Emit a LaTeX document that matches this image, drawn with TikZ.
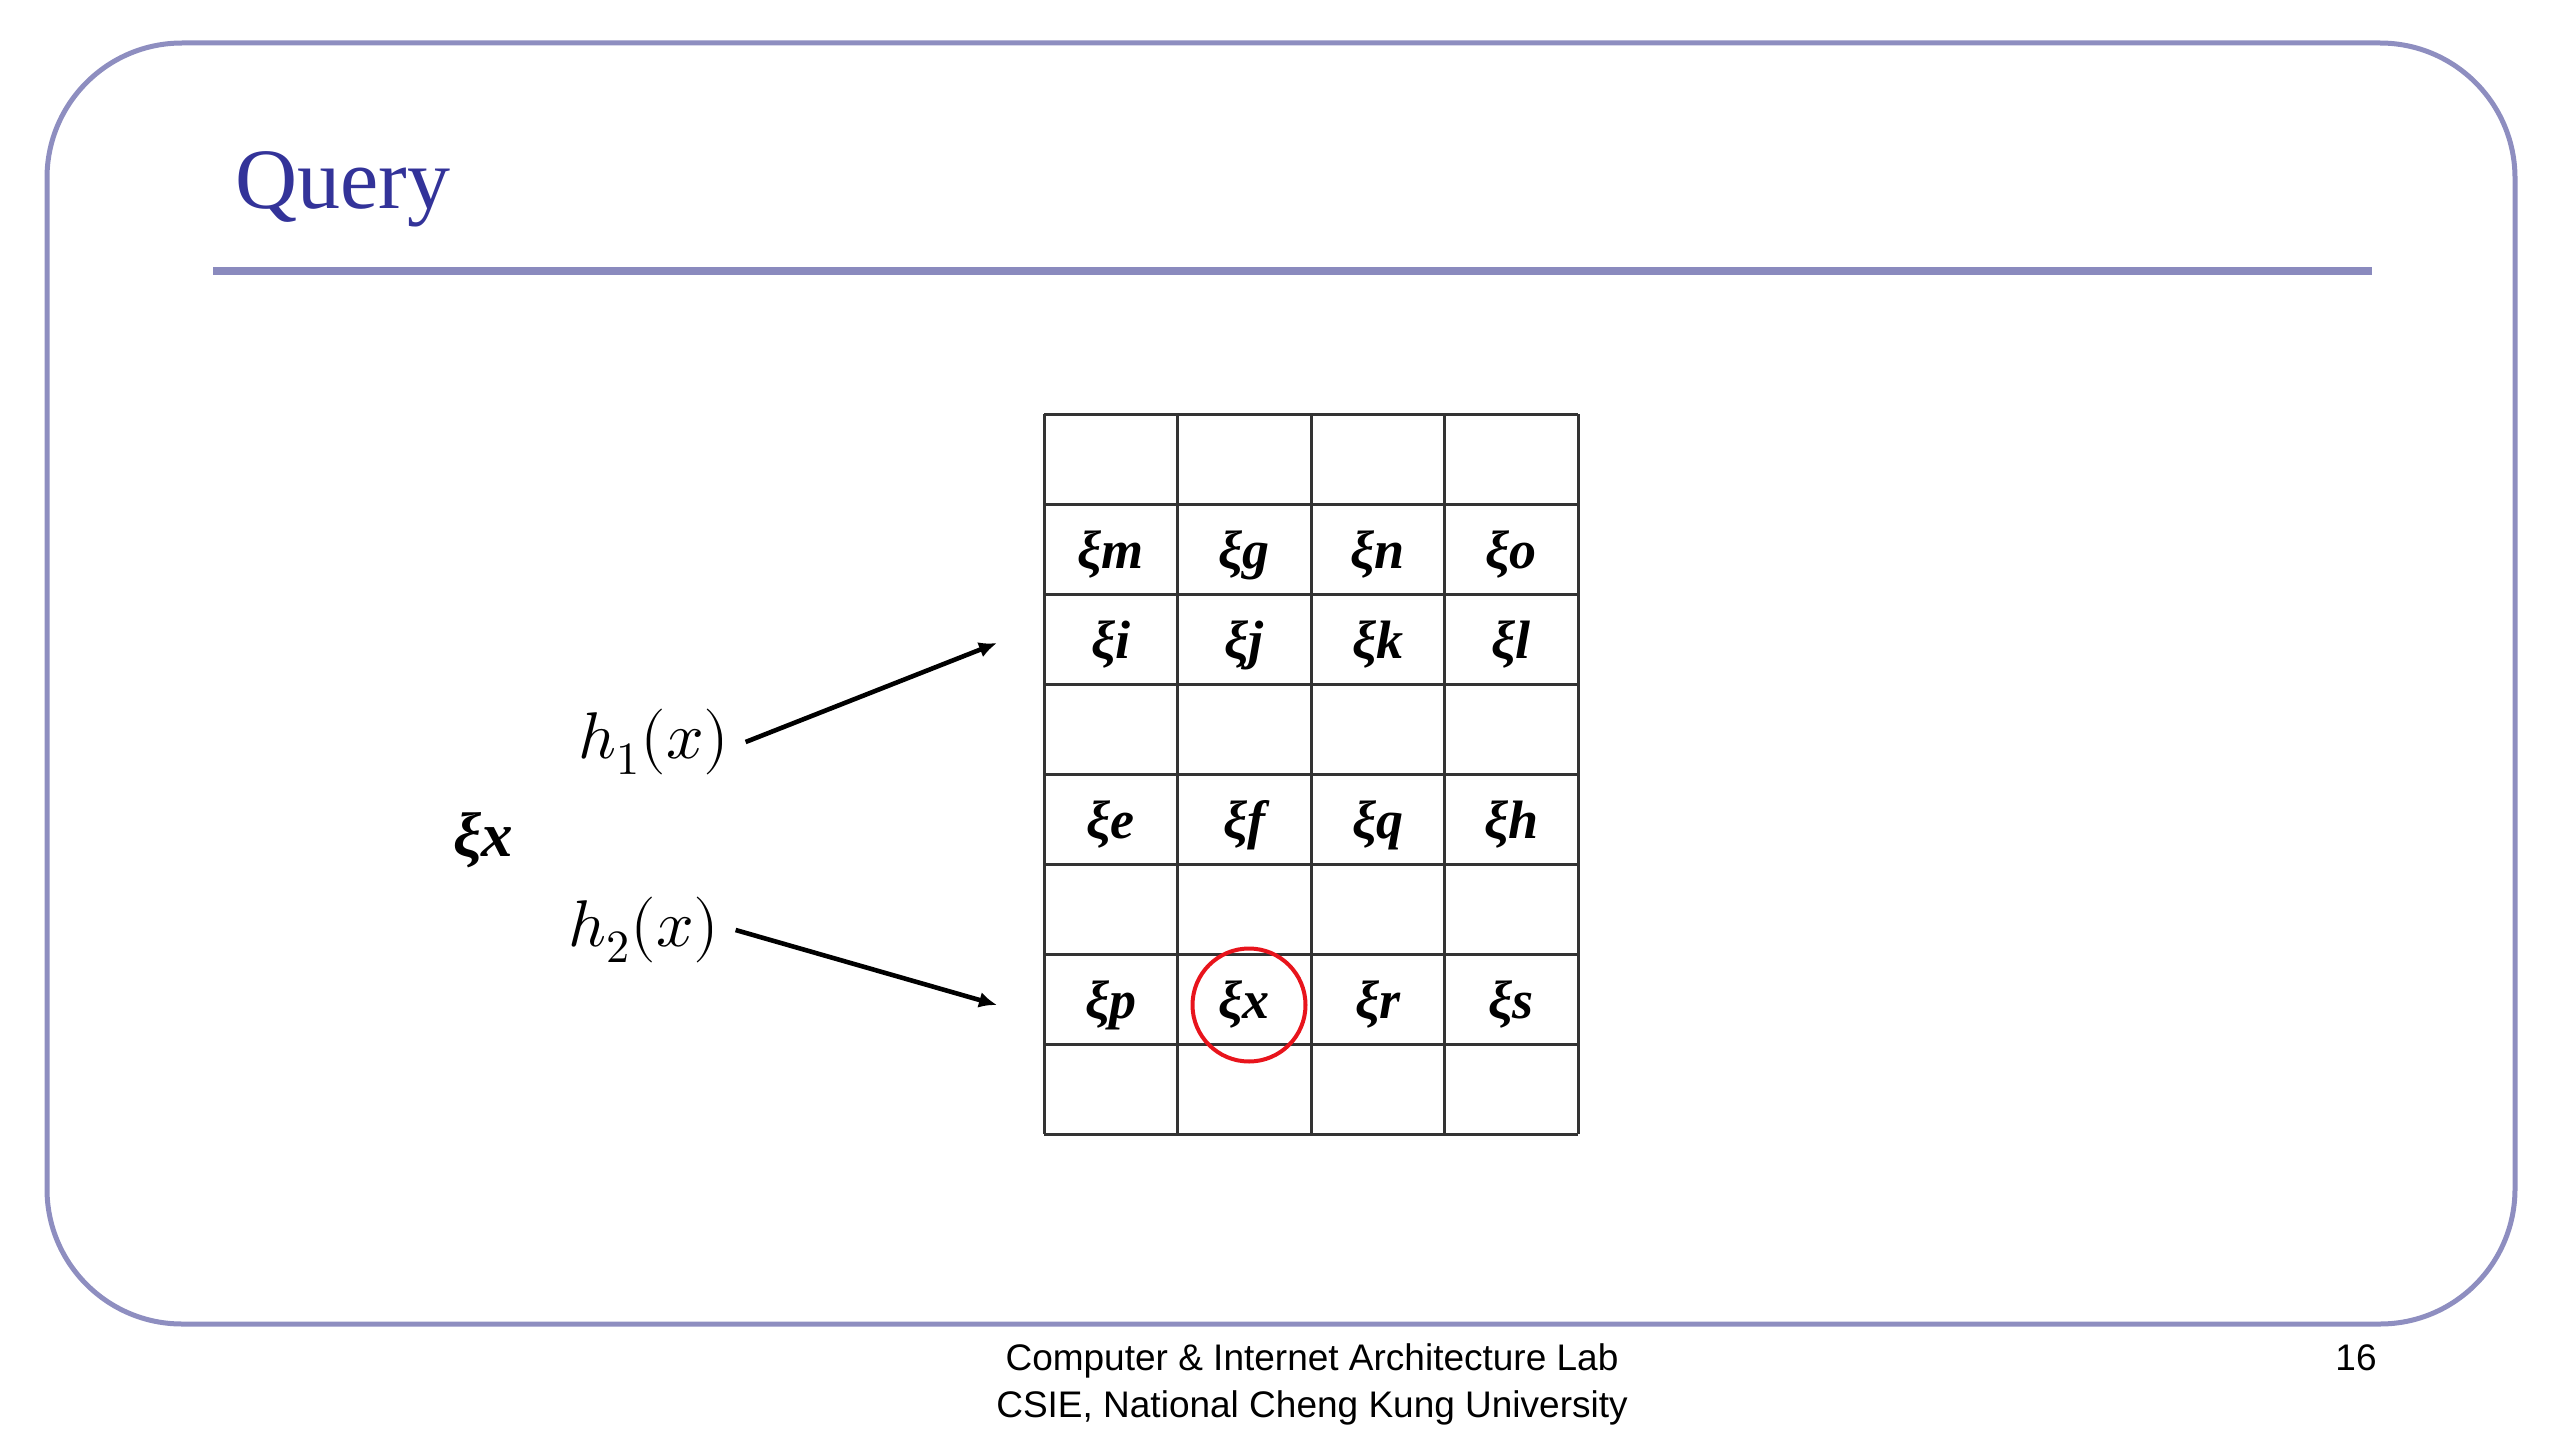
\documentclass[tikz,border=0pt]{standalone}
\usepackage{fontspec}
\usepackage{unicode-math}
\setmainfont{Liberation Serif}
\setmathfont{Latin Modern Math}
\newfontfamily\footfont{Liberation Sans}
\usetikzlibrary{arrows.meta}
\definecolor{framecol}{HTML}{8E8EC0}
\definecolor{rulecol}{HTML}{8A8ABE}
\definecolor{titleblue}{HTML}{333399}
\definecolor{gridgray}{HTML}{333333}
\definecolor{ringred}{HTML}{E8141C}
\begin{document}
\begin{tikzpicture}[x=0.5bp,y=-0.5bp,
  cell/.style={font=\fontsize{27bp}{30bp}\selectfont\bfseries\itshape, inner sep=0pt},
  gridline/.style={draw=gridgray, line width=1.5bp},
  hashlbl/.style={font=\fontsize{33bp}{38bp}\selectfont, inner sep=0pt, outer xsep=8bp},
  hasharrow/.style={line width=2.3bp, -{Latex[length=9bp,width=8bp]}},
  foot/.style={font=\footfont\fontsize{18.5bp}{22bp}\selectfont, inner sep=0pt, anchor=base}]
\useasboundingbox (0,0) rectangle (2560,1440);
% slide frame
\draw[framecol, line width=2.5bp, rounded corners=67.5bp] (47,43) rectangle (2515,1324);
% title and rule
\node[anchor=base west, inner sep=0pt, text=titleblue, font=\fontsize{43bp}{50bp}\selectfont] (title) at (235,208) {Query};
\draw[rulecol, line width=4bp] (213,271) -- (2372,271);
% grid
\foreach \i in {0,...,8} {
  \draw[gridline] (1044,414+90*\i) -- (1578,414+90*\i);
}
\foreach \j in {0,...,4} {
  \draw[gridline] (1044+133.5*\j,414) -- (1044+133.5*\j,1134);
}
% cell labels
\foreach \r/\lst in {2/{m,g,n,o},3/{i,j,k,l},5/{e,f,q,h},7/{p,x,r,s}} {
  \foreach \c [count=\k] in \lst {
    \node[cell] (c-\r-\k) at (1044+133.5*\k-66.75, 414+90*\r-39) {ξ\c};
  }
}
% red ring
\node[draw=ringred, line width=2bp, circle, minimum size=56.5bp, inner sep=0pt] (ring) at (1249,1005) {};
% query element and hash functions
\node[cell, font=\fontsize{31.5bp}{36bp}\selectfont\bfseries\itshape] (q) at (483,840) {ξx};
\node[hashlbl] (h1) at (654,742) {$h_1(x)$};
\node[hashlbl] (h2) at (644,930) {$h_2(x)$};
\coordinate (t1) at (997,643);
\coordinate (t2) at (997,1005);
\draw[hasharrow] (h1.east) -- (t1);
\draw[hasharrow] (h2.east) -- (t2);
% footer
\node[foot] (f1) at (1312,1370) {Computer \& Internet Architecture Lab};
\node[foot] (f2) at (1312,1417) {CSIE, National Cheng Kung University};
\node[foot] (pg) at (2356,1370) {16};
\end{tikzpicture}
\end{document}
